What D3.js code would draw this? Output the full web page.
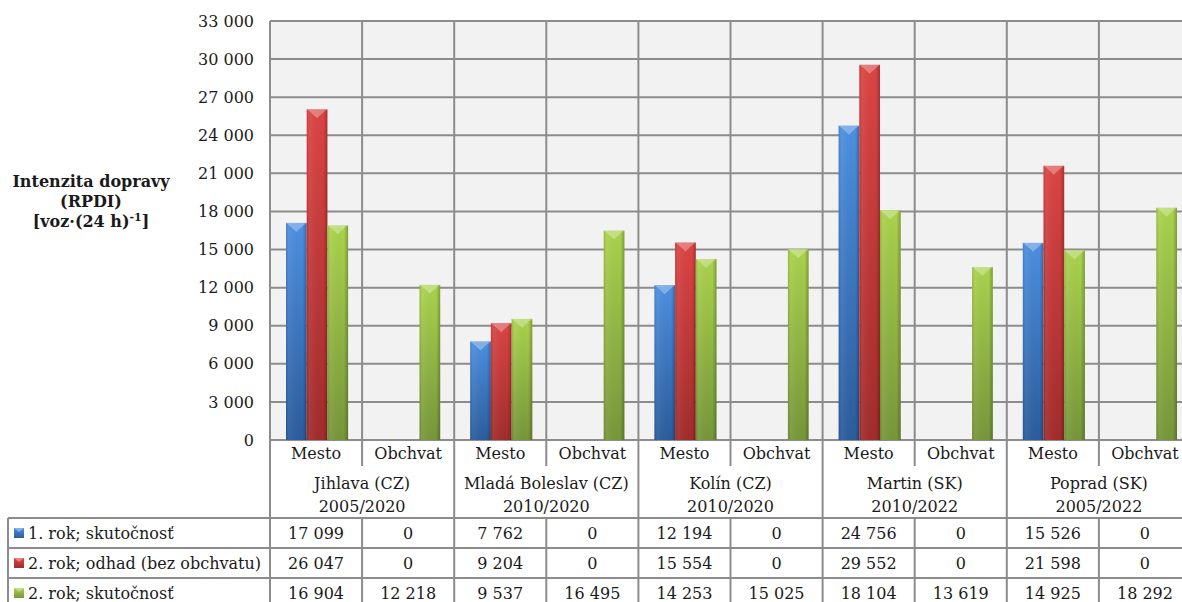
<!DOCTYPE html>
<meta charset="utf-8">
<style>
body { margin: 0; background: #fff; }
text { font-family: "DejaVu Serif", "Liberation Serif", serif; fill: #1a1a1a; }
.grid line { stroke: #8c8c8c; stroke-width: 2; }
.tbl line { stroke: #8c8c8c; stroke-width: 2; }
</style>
<svg width="1182" height="602"></svg>
<script src="https://cdnjs.cloudflare.com/ajax/libs/d3/7.8.5/d3.min.js"></script>
<script>

var groups = ["Jihlava (CZ)|2005/2020", "Mladá Boleslav (CZ)|2010/2020", "Kolín (CZ)|2010/2020", "Martin (SK)|2010/2022", "Poprad (SK)|2005/2022"];
var subcats = ["Mesto", "Obchvat"];
var seriesNames = ["1. rok; skutočnosť", "2. rok; odhad (bez obchvatu)", "2. rok; skutočnosť"];
var seriesColors = [["#4d8fe0", "#2b5c9c"], ["#dc4444", "#a22c2c"], ["#aad34c", "#76963a"]];

// values per column (group x subcat), one array per series
var rok1 = [17099, 0, 7762, 0, 12194, 0, 24756, 0, 15526, 0];
var odhad = [26047, 0, 9204, 0, 15554, 0, 29552, 0, 21598, 0];
var rok2 = [16904, 12218, 9537, 16495, 14253, 15025, 18104, 13619, 14925, 18292];
var yTicks = [0, 3000, 6000, 9000, 12000, 15000, 18000, 21000, 24000, 27000, 30000, 33000];

var series = [rok1, odhad, rok2];

var locale = d3.formatLocale({decimal: ",", thousands: "\u00a0", grouping: [3], currency: ["", ""]});
var fmt = locale.format(",d");

var svg = d3.select("svg");
var pLeft = 270, pRight = 1191, pTop = 21, pBottom = 440;
var fs = "16px";

var cols = [];
groups.forEach(function(g, gi) {
  subcats.forEach(function(s, si) { cols.push(gi * 2 + si); });
});

var x = d3.scaleBand().domain(cols).range([pLeft, pRight]).padding(0);
var xs = d3.scaleBand().domain([0, 1, 2]).range([16, x.bandwidth() - 14]).padding(0);
var y = d3.scaleLinear().domain([0, 33000]).range([pBottom, pTop]);

// gradients
var defs = svg.append("defs");
seriesColors.forEach(function(c, i) {
  var g = defs.append("linearGradient").attr("id", "gv" + i)
    .attr("x1", 0).attr("y1", 0).attr("x2", 0).attr("y2", 1);
  g.append("stop").attr("offset", "0%").attr("stop-color", c[0]);
  g.append("stop").attr("offset", "100%").attr("stop-color", c[1]);
  var h = defs.append("linearGradient").attr("id", "gh" + i)
    .attr("x1", 0).attr("y1", 0).attr("x2", 1).attr("y2", 0);
  h.append("stop").attr("offset", "0%").attr("stop-color", "#000").attr("stop-opacity", 0.12);
  h.append("stop").attr("offset", "15%").attr("stop-color", "#fff").attr("stop-opacity", 0.06);
  h.append("stop").attr("offset", "80%").attr("stop-color", "#000").attr("stop-opacity", 0);
  h.append("stop").attr("offset", "100%").attr("stop-color", "#000").attr("stop-opacity", 0.25);
});

// plot background
svg.append("rect").attr("x", pLeft).attr("y", pTop).attr("width", pRight - pLeft).attr("height", pBottom - pTop)
  .attr("fill", "#f2f2f2");

var grid = svg.append("g").attr("class", "grid");
grid.selectAll(".h").data(yTicks).enter().append("line")
  .attr("x1", pLeft).attr("x2", pRight)
  .attr("y1", function(d) { return y(d); }).attr("y2", function(d) { return y(d); });
grid.selectAll(".v").data(cols.concat([10])).enter().append("line")
  .attr("x1", function(d) { return d < 10 ? x(d) : pRight; })
  .attr("x2", function(d) { return d < 10 ? x(d) : pRight; })
  .attr("y1", pTop).attr("y2", pBottom);

// y labels
svg.append("g").selectAll("text").data(yTicks).enter().append("text")
  .attr("x", 254).attr("y", function(d) { return y(d); }).attr("dy", "0.35em")
  .attr("text-anchor", "end").style("font-size", fs)
  .text(function(d) { return fmt(d); });

// bars
series.forEach(function(vals, si) {
  var g = svg.append("g");
  var bars = g.selectAll("g").data(vals.map(function(v, ci) { return {v: v, c: ci}; })
    .filter(function(d) { return d.v > 0; })).enter().append("g");
  var bx = function(d) { return x(d.c) + xs(si); };
  bars.append("rect")
    .attr("x", bx).attr("y", function(d) { return y(d.v); })
    .attr("width", xs.bandwidth()).attr("height", function(d) { return pBottom - y(d.v); })
    .attr("fill", "url(#gv" + si + ")");
  bars.append("rect")
    .attr("x", bx).attr("y", function(d) { return y(d.v); })
    .attr("width", xs.bandwidth()).attr("height", function(d) { return pBottom - y(d.v); })
    .attr("fill", "url(#gh" + si + ")");
  // bevel top
  bars.append("path")
    .attr("d", function(d) {
      var x0 = bx(d), w = xs.bandwidth(), y0 = y(d.v);
      return "M" + x0 + "," + y0 + "L" + (x0 + w) + "," + y0 + "L" + (x0 + w - 4) + "," + (y0 + 3) +
        "L" + (x0 + w / 2) + "," + (y0 + 9) + "L" + (x0 + 4) + "," + (y0 + 3) + "Z";
    })
    .attr("fill", "#fff").attr("fill-opacity", 0.3);
});

// category axis / table
var tbl = svg.append("g").attr("class", "tbl");
var rowY = [518, 548, 578, 608];
var tblLeft = 8;

// sub-category labels
svg.append("g").selectAll("text").data(cols).enter().append("text")
  .attr("x", function(d) { return x(d) + x.bandwidth() / 2; }).attr("y", 459)
  .attr("text-anchor", "middle").style("font-size", fs)
  .text(function(d) { return subcats[d % 2]; });

// group labels
var gl = svg.append("g").selectAll("text").data(groups).enter().append("text")
  .attr("text-anchor", "middle").style("font-size", fs)
  .attr("transform", function(d, i) { return "translate(" + (x(i * 2) + x.bandwidth()) + ",0)"; });
gl.append("tspan").attr("x", 0).attr("y", 489).text(function(d) { return d.split("|")[0]; });
gl.append("tspan").attr("x", 0).attr("y", 512).text(function(d) { return d.split("|")[1]; });

// axis lines
tbl.selectAll(".gv").data(d3.range(6)).enter().append("line")
  .attr("x1", function(d) { return d < 5 ? x(d * 2) : pRight; })
  .attr("x2", function(d) { return d < 5 ? x(d * 2) : pRight; })
  .attr("y1", pBottom).attr("y2", rowY[0]);
tbl.selectAll(".sv").data(d3.range(5)).enter().append("line")
  .attr("x1", function(d) { return x(d * 2 + 1); }).attr("x2", function(d) { return x(d * 2 + 1); })
  .attr("y1", pBottom).attr("y2", 466);

// table rows
tbl.selectAll(".rh").data(rowY).enter().append("line")
  .attr("x1", tblLeft).attr("x2", pRight)
  .attr("y1", function(d) { return d; }).attr("y2", function(d) { return d; });
tbl.selectAll(".cv").data([tblLeft].concat(cols.map(function(c) { return x(c); })).concat([pRight]))
  .enter().append("line")
  .attr("x1", function(d) { return d; }).attr("x2", function(d) { return d; })
  .attr("y1", rowY[0]).attr("y2", 602);

series.forEach(function(vals, si) {
  var cy = (rowY[si] + rowY[si + 1]) / 2;
  var lg = svg.append("g");
  lg.append("rect").attr("x", 14).attr("y", cy - 5).attr("width", 10).attr("height", 10)
    .attr("fill", "url(#gv" + si + ")");
  lg.append("path")
    .attr("d", "M14," + (cy - 5) + "L24," + (cy - 5) + "L19," + (cy - 1) + "Z")
    .attr("fill", "#fff").attr("fill-opacity", 0.35);
  lg.append("text").attr("x", 28).attr("y", cy).attr("dy", "0.35em")
    .style("font-size", fs).text(seriesNames[si]);
  svg.append("g").selectAll("text").data(vals).enter().append("text")
    .attr("x", function(d, i) { return x(i) + x.bandwidth() / 2; })
    .attr("y", cy).attr("dy", "0.35em").attr("text-anchor", "middle")
    .style("font-size", fs)
    .text(function(d) { return fmt(d); });
});

// axis title
var tt = svg.append("text").attr("text-anchor", "middle").style("font-size", "16px").style("font-weight", "bold");
tt.append("tspan").attr("x", 91).attr("y", 187).text("Intenzita dopravy");
tt.append("tspan").attr("x", 91).attr("y", 207).text("(RPDI)");
var t3 = tt.append("tspan").attr("x", 91).attr("y", 227).text("[voz·(24 h)");
t3.append("tspan").attr("dy", -6).style("font-size", "11px").text("-1");
t3.append("tspan").attr("dy", 6).text("]");

</script>
